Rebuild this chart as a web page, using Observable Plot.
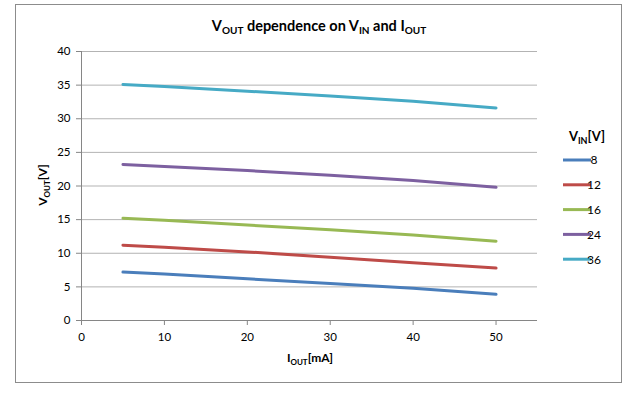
<!DOCTYPE html>
<html><head><meta charset="utf-8">
<script src="https://cdn.jsdelivr.net/npm/d3@7"></script>
<script src="https://cdn.jsdelivr.net/npm/@observablehq/plot@0.6"></script>
<style>body{margin:0;background:#fff;font-family:Lato,"Open Sans",sans-serif}</style>
</head><body><div id="chart"></div>
<script>
// ---- data ----
const ioutValues = [5, 10, 20, 30, 40, 50];
const vinLabels = ["8", "12", "16", "24", "36"];
const vout8  = [7.2, 6.9, 6.2, 5.5, 4.8, 3.9];
const vout12 = [11.2, 10.9, 10.2, 9.4, 8.6, 7.8];
const vout16 = [15.2, 14.9, 14.2, 13.5, 12.7, 11.8];
const vout24 = [23.2, 22.9, 22.3, 21.6, 20.8, 19.8];
const vout36 = [35.1, 34.8, 34.1, 33.4, 32.6, 31.6];
const xTicks = [0, 10, 20, 30, 40, 50];
const yTicks = [0, 5, 10, 15, 20, 25, 30, 35, 40];
const colors = ["#4a7ebb", "#be4b48", "#98b954", "#7d60a0", "#46aac5"];

const series = [vout8, vout12, vout16, vout24, vout36];
const rows = [];
vinLabels.forEach((v, i) => series[i].forEach((y, j) => rows.push({iout: ioutValues[j], vout: y, vin: v})));

const plot = Plot.plot({
  width: 637, height: 407,
  marginLeft: 81, marginRight: 100, marginTop: 51, marginBottom: 87,
  x: {domain: [0, 55]},
  y: {domain: [0, 40]},
  color: {domain: vinLabels, range: colors},
  style: {fontFamily: "Lato, 'Open Sans', sans-serif", fontSize: "11.5px", background: "transparent", color: "#000"},
  marks: [
    Plot.ruleY(yTicks.filter(d => d > 0), {stroke: "#b3b3b3", strokeWidth: 1}),
    Plot.axisY({ticks: yTicks, tickSize: 5, tickPadding: 6, stroke: "#868686", fill: "#000", label: null}),
    Plot.axisX({ticks: xTicks, tickSize: 5, tickPadding: 7, stroke: "#868686", fill: "#000", label: null}),
    Plot.ruleY([0], {stroke: "#868686"}),
    Plot.ruleX([0], {stroke: "#868686"}),
    Plot.line(rows, {x: "iout", y: "vout", z: "vin", stroke: "vin", strokeWidth: 3})
  ]
});
document.getElementById("chart").appendChild(plot);

const svg = d3.select(plot);
svg.insert("rect", ":first-child")
  .attr("x", 15.5).attr("y", 4.5).attr("width", 606).attr("height", 378)
  .attr("fill", "none").attr("stroke", "#8c8c8c").attr("stroke-width", 1);

function subText(g, parts, size, subSize) {
  const t = g.append("text").attr("font-weight", "bold").attr("font-size", size).attr("fill", "#000");
  let shifted = false;
  parts.forEach(([s, sub]) => {
    const ts = t.append("tspan").text(s);
    if (sub) { ts.attr("font-size", subSize); if (!shifted) { ts.attr("dy", 3); shifted = true; } }
    else if (shifted) { ts.attr("dy", -3); shifted = false; }
  });
  return t;
}

// title
subText(svg.append("g").attr("transform", "translate(319,31)"),
  [["V", false], ["OUT", true], [" dependence on V", false], ["IN", true], [" and I", false], ["OUT", true]], 14.5, 10)
  .attr("text-anchor", "middle");

// x label
subText(svg.append("g").attr("transform", "translate(310,362)"),
  [["I", false], ["OUT", true], ["[mA]", false]], 12, 8).attr("text-anchor", "middle");

// y label
subText(svg.append("g").attr("transform", "translate(47,185) rotate(-90)"),
  [["V", false], ["OUT", true], ["[V]", false]], 12, 8).attr("text-anchor", "middle");

// legend
subText(svg.append("g").attr("transform", "translate(587,141)"),
  [["V", false], ["IN", true], ["[V]", false]], 13, 9).attr("text-anchor", "middle");
const colorScale = plot.scale("color");
const leg = svg.append("g");
vinLabels.forEach((v, i) => {
  const y = 160 + i * 24.8;
  leg.append("line").attr("x1", 563).attr("x2", 591).attr("y1", y).attr("y2", y)
    .attr("stroke", d3.scaleOrdinal(colorScale.domain, colorScale.range)(v)).attr("stroke-width", 3);
  leg.append("text").attr("x", 594).attr("y", y).attr("dy", "0.36em")
    .attr("font-size", 12).attr("fill", "#000").text(v);
});
</script></body></html>
